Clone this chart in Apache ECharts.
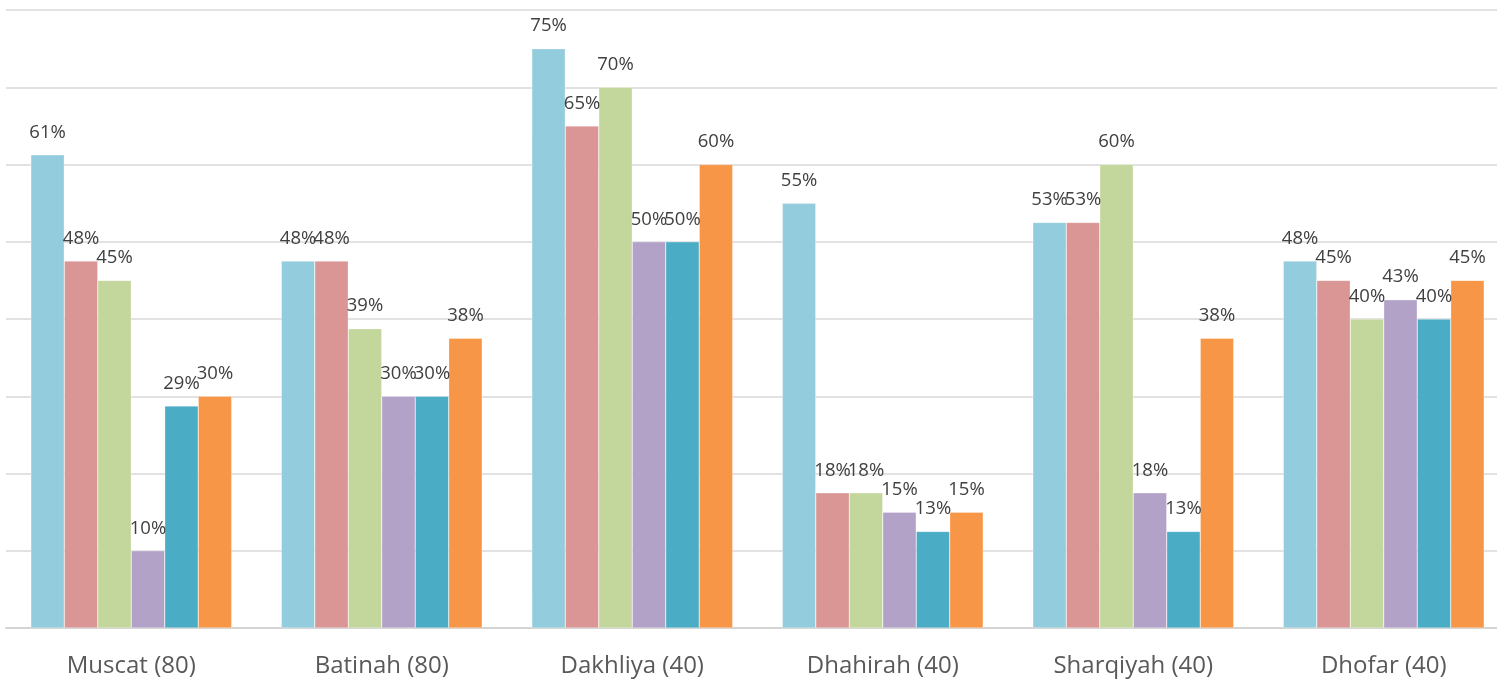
<!DOCTYPE html>
<html>
<head>
<meta charset="utf-8">
<script src="https://cdn.jsdelivr.net/npm/echarts@6/dist/echarts.min.js"></script>
<style>
  html, body { margin: 0; padding: 0; background: #fff; overflow: hidden; }
  #myChart { width: 1497px; height: 681px; }
</style>
</head>
<body>
<div id="myChart"></div>
<script>
// categories (sample size in brackets)
var regions = ["Muscat (80)", "Batinah (80)", "Dakhliya (40)", "Dhahirah (40)", "Sharqiyah (40)", "Dhofar (40)"];

// percentage per group, one array per series
var group1 = [61.25, 47.5, 75, 55, 52.5, 47.5];
var group2 = [47.5, 47.5, 65, 17.5, 52.5, 45];
var group3 = [45, 38.75, 70, 17.5, 60, 40];
var group4 = [10, 30, 50, 15, 17.5, 42.5];
var group5 = [28.75, 30, 50, 12.5, 12.5, 40];
var group6 = [30, 37.5, 60, 15, 37.5, 45];

var colors = ["#93CDDD", "#D99694", "#C3D69B", "#B3A2C7", "#4BACC6", "#F79646"];
var seriesData = [group1, group2, group3, group4, group5, group6];

var myChart = echarts.init(document.getElementById("myChart"));

var series = seriesData.map(function (d, i) {
  return {
    name: "Group " + (i + 1),
    type: "bar",
    data: d,
    barGap: 0,
    barCategoryGap: "19.8%",
    itemStyle: { color: colors[i], borderColor: "rgba(255,255,255,0.6)", borderWidth: 0.5 },
    label: {
      show: true,
      position: "top",
      distance: 13,
      color: "#404040",
      fontSize: 18.5,
      fontFamily: "Open Sans",
      formatter: function (p) {
        return Math.round(p.value) + "%";
      },
    },
  };
});

var options = {
  animation: false,
  grid: { left: 6, right: -12, top: 10, bottom: 53, outerBoundsMode: "none", containLabel: false },
  xAxis: {
    type: "category",
    data: regions,
    axisLine: { lineStyle: { color: "#d4d4d4", width: 2 } },
    axisTick: { show: false },
    axisLabel: { color: "#595959", fontSize: 24, fontFamily: "Open Sans", margin: 26 },
  },
  yAxis: {
    type: "value",
    min: 0,
    max: 80,
    interval: 10,
    axisLabel: { show: false },
    axisLine: { show: false },
    axisTick: { show: false },
    splitLine: { lineStyle: { color: "#d9d9d9", width: 1.5 } },
  },
  series: series,
};

myChart.setOption(options, true);
</script>
</body>
</html>
